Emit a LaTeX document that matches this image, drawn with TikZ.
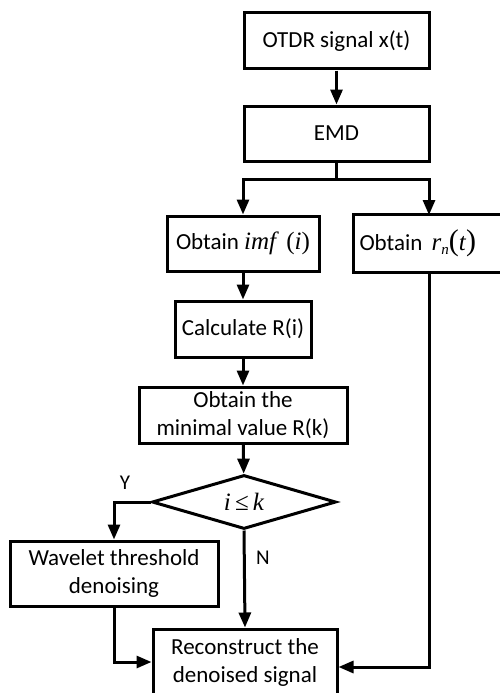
\documentclass[tikz,border=0pt]{standalone}
\usepackage{fontspec}
\setmainfont{Carlito}
\newfontfamily\tms{Liberation Serif}
\usetikzlibrary{shapes.geometric,arrows.meta}
\begin{document}
\begin{tikzpicture}[x=1pt,y=-1pt,
 box/.style={draw,line width=3pt,rectangle,inner sep=0pt,align=center,font=\fontsize{23}{28}\selectfont},
 arr/.style={line width=3pt,-{Triangle[length=15pt,width=12pt]}},
 ln/.style={line width=3pt},
 lab/.style={font=\fontsize{21}{24}\selectfont,inner sep=0pt}]
\fill[white] (0,0) rectangle (500,693);
\useasboundingbox (0,0) rectangle (500,693);
\node[box,minimum width=185pt,minimum height=56pt] (otdr) at (336.5,41) {OTDR signal x(t)};
\node[box,minimum width=185pt,minimum height=55pt] (emd) at (336.5,133.5) {EMD};
\node[box,minimum width=152pt,minimum height=55pt] (imf) at (243,243.5) {Obtain {\tms\fontsize{25}{28}\selectfont\itshape imf}\;\,{\tms\fontsize{25}{28}\selectfont (\itshape i\/\upshape)}};
\node[box,draw=none,minimum height=55pt,anchor=west] (rn) at (353,243.5) {\hbox to 140pt{\hskip5pt Obtain\, {\tms\fontsize{25}{28}\selectfont\itshape r\raisebox{-4pt}{\fontsize{15}{15}\selectfont n}}{\tms\fontsize{30}{30}\selectfont(\itshape\fontsize{25}{28}\selectfont t\/\upshape\fontsize{30}{30}\selectfont)}\hfil}};
\coordinate (edge) at (503,0);
\draw[ln] (rn.north west -| edge) -- (rn.north west) -- (rn.south west) -- (rn.south west -| edge);
\node[box,minimum width=136pt,minimum height=56pt] (calc) at (243,329) {Calculate R(i)};
\node[box,minimum width=208pt,minimum height=56pt] (minv) at (243,415) {Obtain the\\minimal value R(k)};
\node[draw,diamond,line width=3pt,minimum width=184pt,minimum height=54pt,inner sep=0pt,aspect=3.4] (dia) at (244,502) {{\tms\fontsize{25}{28}\selectfont\itshape i\,\upshape≤\,\itshape k}};
\node[box,minimum width=208pt,minimum height=65pt] (wave) at (114,573.5) {Wavelet threshold\\denoising};
\node[box,minimum width=184pt,minimum height=66pt] (recon) at (245,662) {Reconstruct the\\denoised signal};
\coordinate (sp) at (336.5,179);
\coordinate (rnin) at (429,215);
\coordinate (rnout) at (429,271);
\node[lab] (ylab) at (125,483) {Y};
\node[lab] (nlab) at (263,558) {N};
\draw[arr] (otdr) -- (emd);
\draw[ln] (emd) -- (sp);
\draw[arr] (sp) -| (imf.north);
\draw[arr] (sp) -| (rnin);
\draw[arr] (imf) -- (calc);
\draw[arr] (calc) -- (minv);
\draw[arr] (minv) -- (dia);
\draw[arr] (dia.west) -| (wave.north);
\draw[arr] (dia.south) -- (recon.north);
\draw[arr] (wave.south) |- (recon.west);
\draw[arr] (rnout) |- ([yshift=-5pt]recon.east);
\end{tikzpicture}
\end{document}
